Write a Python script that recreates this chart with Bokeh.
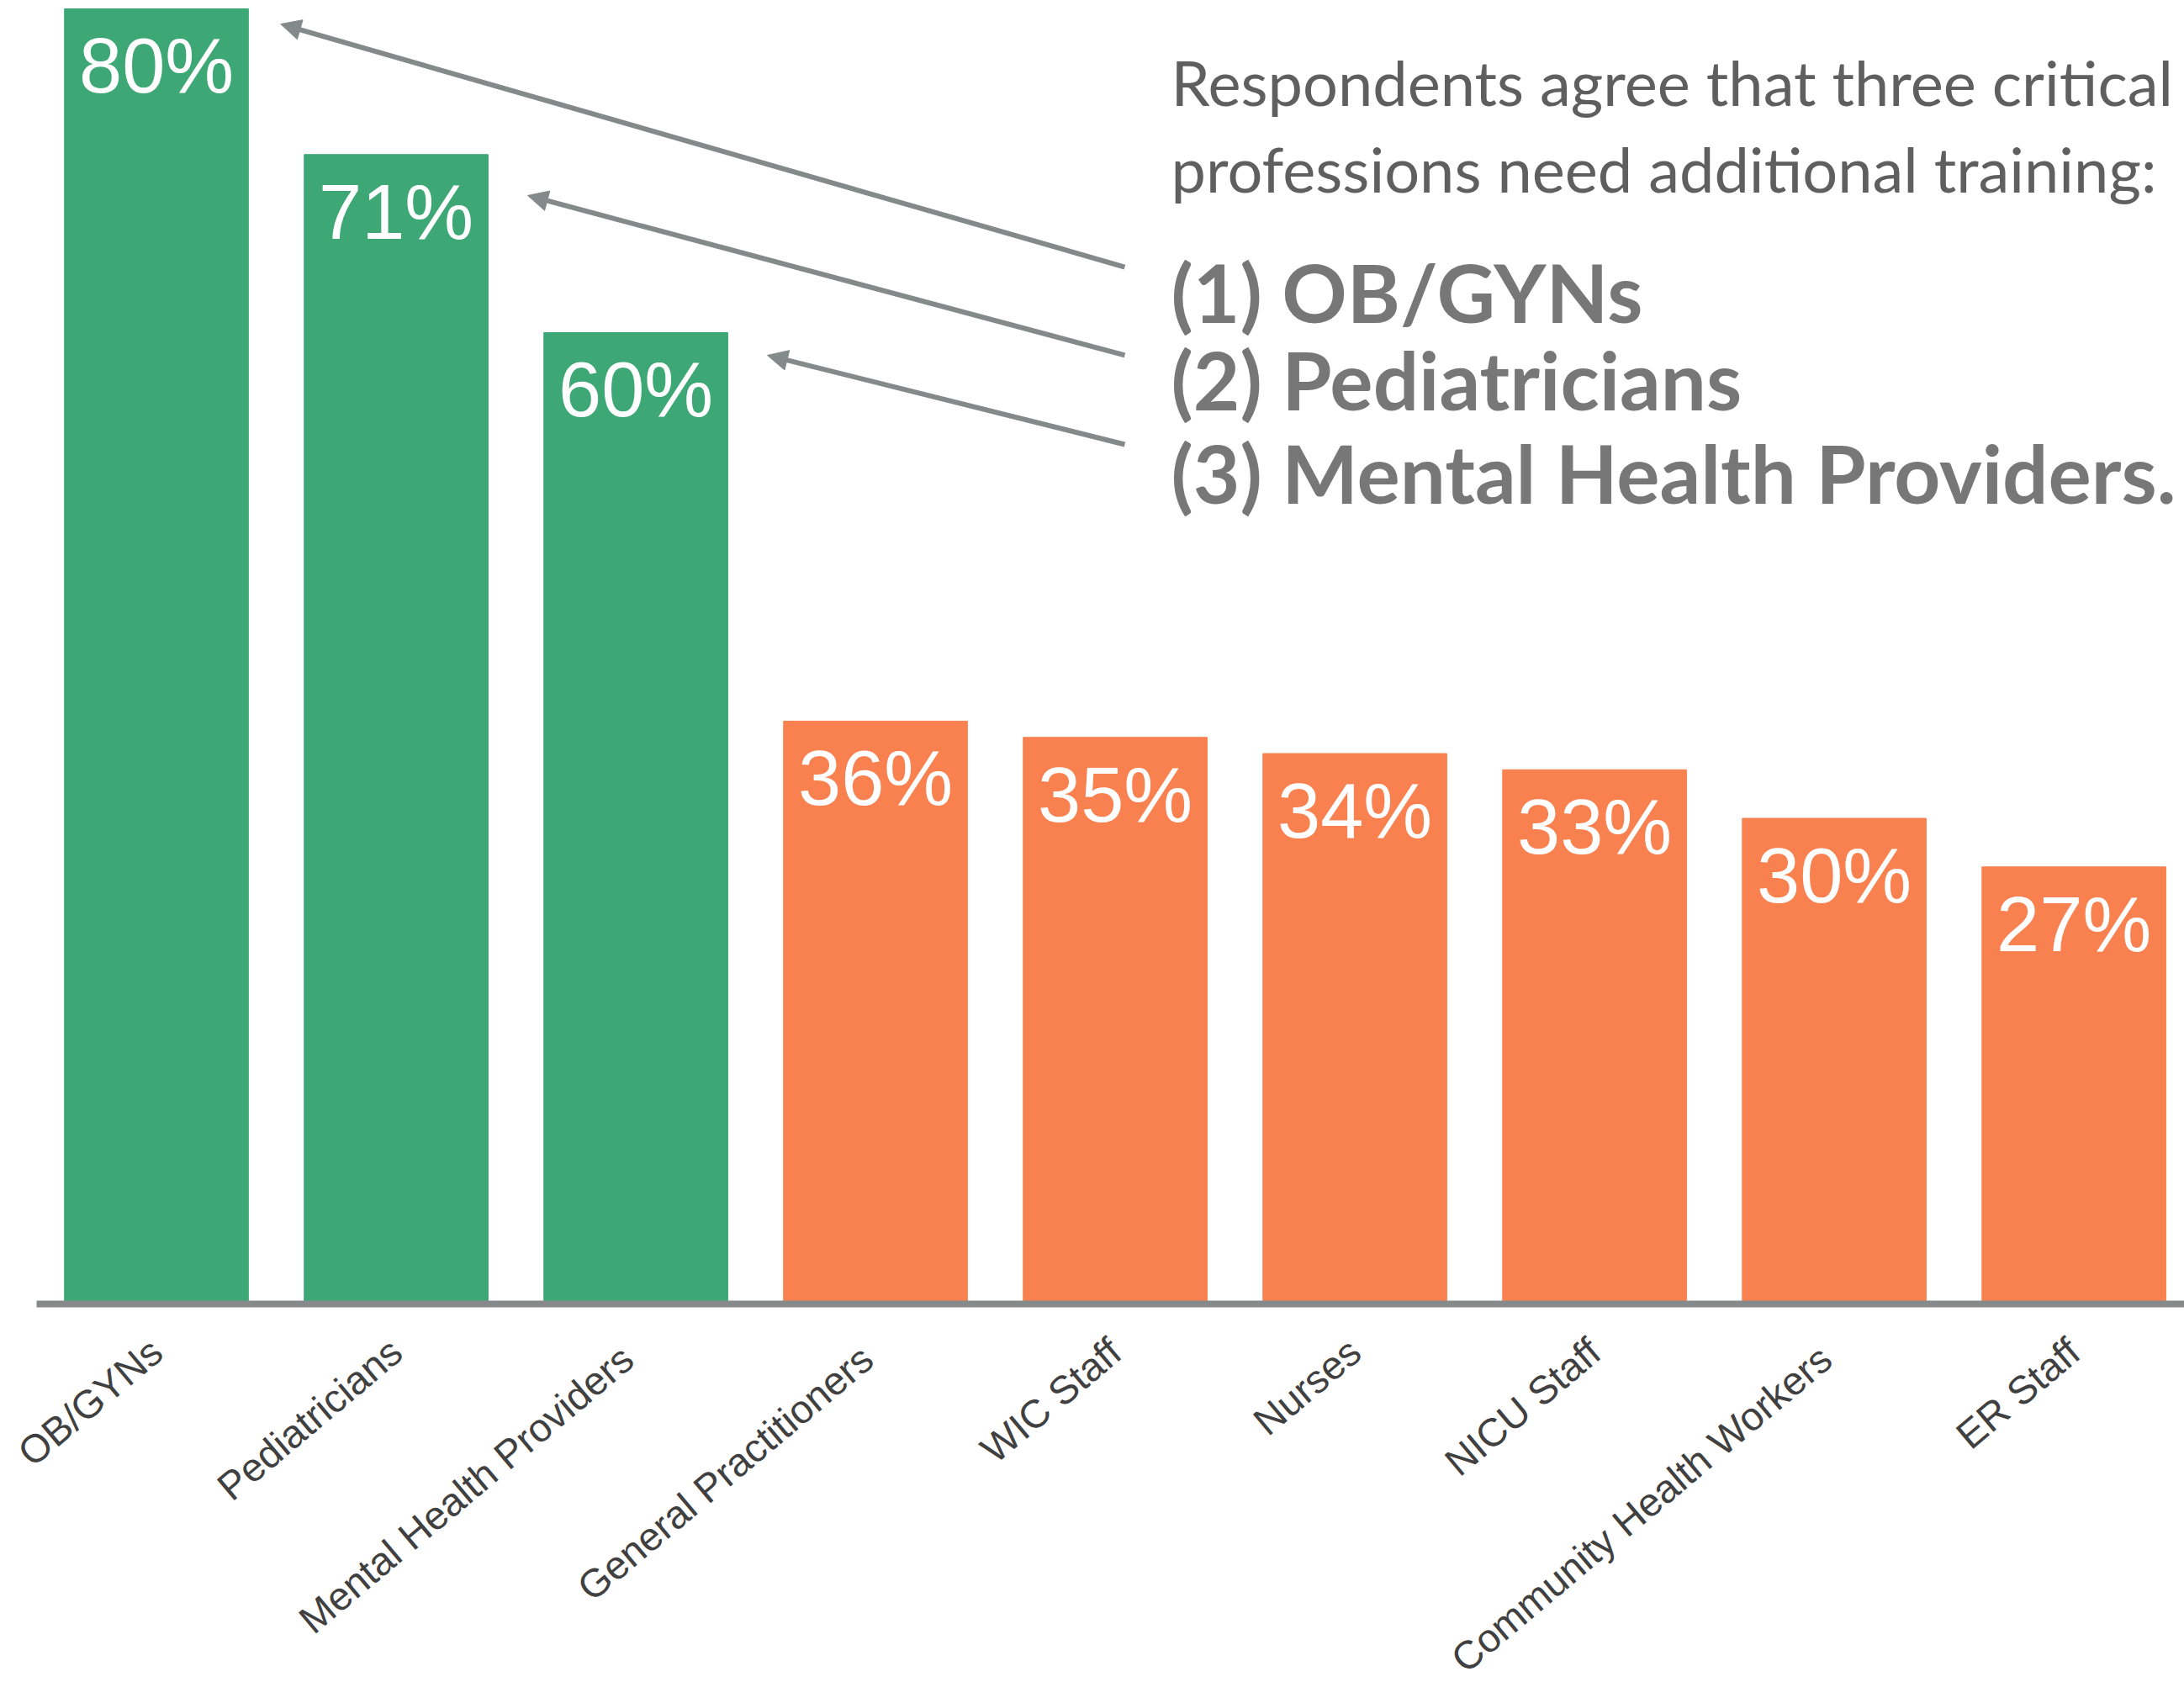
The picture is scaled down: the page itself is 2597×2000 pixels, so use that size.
from bokeh.plotting import figure
from bokeh.models import Range1d, ColumnDataSource, Label, LabelSet, Arrow, NormalHead
from bokeh.core.properties import value
from bokeh.embed import file_html
from bokeh.resources import INLINE

# ---- data ----
categories = ["OB/GYNs", "Pediatricians", "Mental Health  Providers",
              "General  Practitioners", "WIC Staff", "Nurses", "NICU Staff",
              "Community  Health Workers", "ER Staff"]
percent = [80, 71, 60, 36, 35, 34, 33, 30, 27]
top_group = [True, True, True, False, False, False, False, False, False]

title_lines = ["Respondents agree that three critical",
               "professions need additional training:"]
callouts = ["(1) OB/GYNs", "(2) Pediatricians", "(3) Mental Health Providers."]

GREEN = "#3da775"
ORANGE = "#f8814f"
GRAY_LINE = "#848989"

idx = list(range(len(categories)))
src = ColumnDataSource(dict(
    x=idx,
    top=percent,
    base=[0] * len(idx),
    cat=categories,
    color=[GREEN if g else ORANGE for g in top_group],
    label=[f"{v}%" for v in percent],
    ly=[v - 3.53 for v in percent],
))

# frame fills the canvas; the value axis runs from 0 (the baseline) to 80.52 at the top
x_lo, x_hi = -0.651, 8.461
p = figure(width=2597, height=2000, output_backend="svg", toolbar_location=None,
           x_range=Range1d(x_lo, x_hi), y_range=Range1d(-23.377, 80.52),
           x_axis_location=None, y_axis_location=None,
           min_border_left=0, min_border_right=0, min_border_top=0, min_border_bottom=0)
p.outline_line_color = None
p.grid.visible = False
p.background_fill_color = "white"
p.border_fill_color = "white"

p.vbar(x="x", top="top", bottom=0, width=0.767, color="color", source=src)
p.text(x="x", y="ly", text="label", source=src, text_align="center",
       text_baseline="alphabetic", text_color="white",
       text_font=value("Liberation Sans"), text_font_size="92px")

# baseline from the left edge of the category band to the right edge
p.segment(x0=[-0.5], y0=[0], x1=[x_hi + 1], y1=[0], line_color="#868a8a",
          line_width=8, line_cap="butt")

# category names, rotated under the baseline
p.add_layout(LabelSet(x="x", y="base", text="cat", source=src, angle=0.70,
                      x_offset=0, y_offset=-50, text_align="right",
                      text_baseline="middle", text_font=value("Liberation Sans"),
                      text_font_size=value("47px"), text_color="#404040"))

# text block
tx = 4.233
for t, y in zip(title_lines, [75.48, 70.13]):
    p.add_layout(Label(x=tx, y=y, text=t, text_font="Lato", text_font_size="74px",
                       text_color="#5f5f5f", text_baseline="alphabetic"))
for t, y in zip(callouts, [62.55, 57.15, 51.38]):
    p.add_layout(Label(x=tx, y=y, text=t, text_font="Lato", text_font_size="96px",
                       text_font_style="bold", text_color="#777777",
                       text_baseline="alphabetic"))

# arrows from callouts to bars
arrow_tail_x = 4.04
arrow_tail_y = [64.05, 58.6, 53.09]
arrow_tip = [(0.518, 79.06), (1.549, 68.47), (2.549, 58.6)]
for ty, (hx, hy) in zip(arrow_tail_y, arrow_tip):
    p.add_layout(Arrow(end=NormalHead(size=24, fill_color=GRAY_LINE, line_color=GRAY_LINE),
                       x_start=arrow_tail_x, y_start=ty, x_end=hx, y_end=hy,
                       line_color=GRAY_LINE, line_width=6))

open("out.html", "w").write(file_html(p, INLINE))
